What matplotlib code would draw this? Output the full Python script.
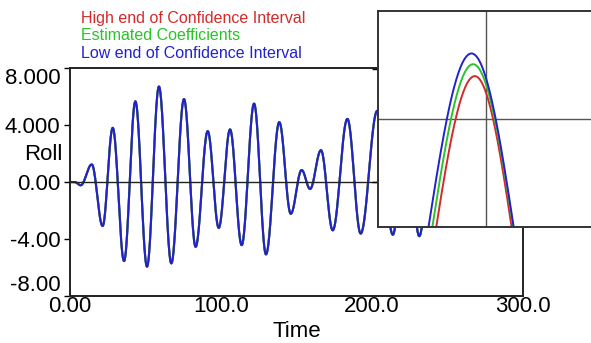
import numpy as np
import matplotlib
matplotlib.use("Agg")
import matplotlib.pyplot as plt

plt.rcParams['font.family'] = ['Liberation Sans', 'DejaVu Sans']

tiempos_ext = [0, 3, 7.1, 14.4, 21.6, 28.3, 35.8, 43.3, 51.0, 58.9, 67.1, 75.5,
               83.2, 91.2, 98.5, 106.0, 113.7, 121.9, 129.8, 138.6, 146.2, 153.4,
               159.0, 166.2, 174.0, 183.7, 192.5, 203.5, 213.8, 222.5, 231.3,
               240.0, 249.0, 258.0, 267.0, 276.0, 285.0, 294.0]
roll_ext = [0, 0, -0.23, 1.23, -3.09, 3.8, -5.55, 5.66, -5.94, 6.70, -5.71, 5.82,
            -4.55, 3.57, -3.22, 3.69, -4.43, 5.50, -5.08, 4.2, -2.23, 0.84,
            -0.49, 2.23, -3.39, 4.43, -3.62, 5.0, -3.7, 4.5, -3.8,
            3.5, -2.8, 3.0, -2.5, 2.5, -2.0, 2.0]

# Curvas del recuadro ampliado (valle, pico, valle)
t_alto = [52.94, 58.16, 63.14]
v_alto = [-6.0, 5.75, -6.0]
t_estimado = [52.67, 58.05, 63.35]
v_estimado = [-6.0, 6.17, -6.0]
t_bajo = [52.4, 57.95, 63.4]
v_bajo = [-6.0, 6.55, -6.0]

y_ticks = [8, 4, 0, -4, -8]
y_etiquetas = ["8.000", "4.000", "0.00", "-4.00", "-8.00"]
x_ticks = [0, 100, 200, 300]
x_etiquetas = ["0.00", "100.0", "200.0", "300.0"]

ROJO = '#d42a2a'
VERDE = '#2ac42a'
AZUL = '#2222cc'


def curva_suave(ts, vs, n=40):
    """Une los extremos con medias ondas de coseno"""
    tt, vv = [], []
    for i in range(len(ts) - 1):
        s = np.linspace(0, 1, n, endpoint=False)
        tt.append(ts[i] + (ts[i + 1] - ts[i]) * s)
        vv.append(vs[i] + (vs[i + 1] - vs[i]) * (1 - np.cos(np.pi * s)) / 2)
    tt.append([ts[-1]])
    vv.append([vs[-1]])
    return np.concatenate(tt), np.concatenate(vv)


fig = plt.figure(figsize=(5.91, 3.43), dpi=100)

ax = fig.add_axes([70 / 591, 1 - 296 / 343, 453 / 591, 228 / 343])
t, v = curva_suave(tiempos_ext, roll_ext)
ax.plot(t, v, color=ROJO, lw=1.5)
ax.plot(t, v, color=VERDE, lw=1.5)
ax.plot(t, v, color=AZUL, lw=1.5)
ax.axhline(0, color='#222222', lw=1)
ax.set_xlim(0, 300)
ax.set_ylim(-8, 8)
ax.set_yticks(y_ticks)
ax.set_yticklabels(y_etiquetas, fontsize=16)
ax.set_xticks(x_ticks)
ax.set_xticklabels(x_etiquetas, fontsize=16)
ax.tick_params(axis='x', length=0, pad=0)
ax.tick_params(axis='y', length=4, width=1, pad=3)
ax.get_yticklabels()[0].set_va('top')
ax.get_yticklabels()[-1].set_va('bottom')
for sp in ax.spines.values():
    sp.set_color('#222222')
    sp.set_linewidth(1.4)
ax.set_xlabel("Time", fontsize=16, labelpad=3)
fig.text(62 / 591, 1 - 155 / 343, "Roll", fontsize=16, ha='right', va='center')

# Leyenda como texto de colores
fig.text(81 / 591, 1 - 18 / 343, "High end of Confidence Interval", color=ROJO,
         fontsize=11.5, va='center')
fig.text(81 / 591, 1 - 36 / 343, "Estimated Coefficients", color=VERDE,
         fontsize=11.5, va='center')
fig.text(81 / 591, 1 - 54 / 343, "Low end of Confidence Interval", color=AZUL,
         fontsize=11.5, va='center')

# Recuadro ampliado
ins = fig.add_axes([378 / 591, 1 - 227 / 343, 220 / 591, 216 / 343])
ins.set_facecolor('white')
ins.set_xlim(52, 66)
ins.set_ylim(0.42, 8.05)
ins.axvline(58.9, color='#555555', lw=1)
ins.axhline(sum(ins.get_ylim()) / 2, color='#555555', lw=1)
for ts, vs, col in [(t_alto, v_alto, ROJO), (t_estimado, v_estimado, VERDE),
                    (t_bajo, v_bajo, AZUL)]:
    ti, vi = curva_suave(ts, vs, n=120)
    ins.plot(ti, vi, color=col, lw=1.4)
ins.set_xticks([])
ins.set_yticks([2, 6])
ins.set_yticklabels([])
ins.tick_params(axis='y', length=4, width=1)
for sp in ins.spines.values():
    sp.set_color('#333333')
    sp.set_linewidth(1.4)

fig.savefig("out.png", dpi=100)
